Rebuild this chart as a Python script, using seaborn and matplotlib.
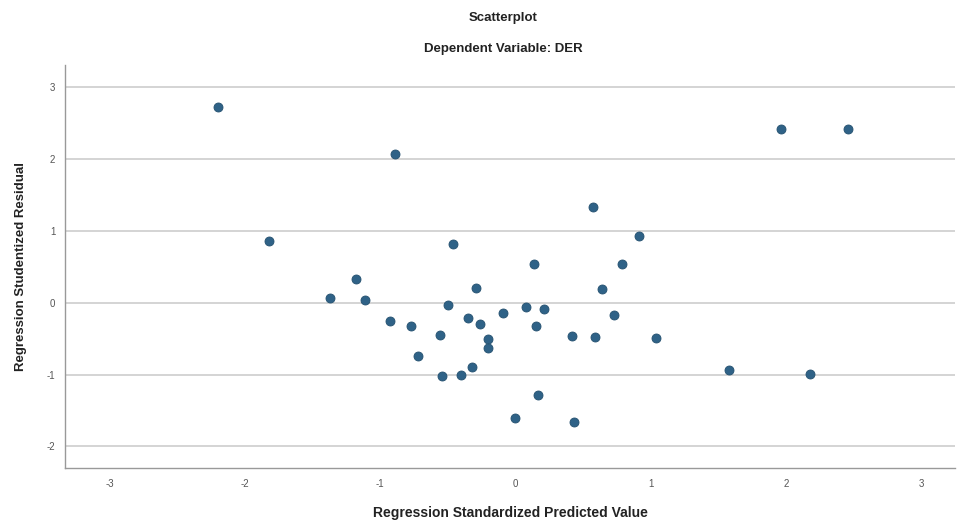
import matplotlib
matplotlib.use("Agg")
import matplotlib.pyplot as plt
import numpy as np
import pandas as pd
import seaborn as sns

# Values
predicted = [
    -2.20, -0.89, -1.82, -0.46, 0.14, -1.18, -0.29, -1.37, -1.11, -0.50,
    0.79, 0.64, -0.09, 0.08, 0.21, 0.73, -0.93, -0.77, -0.35, -0.26,
    0.15, -0.56, -0.20, -0.20, 0.42, 0.59, 1.04, -0.72, -0.32, -0.54,
    -0.40, 0.17, 0.00, 0.43, 1.96, 2.46, 0.57, 0.91, 1.58, 2.18,
]
residual = [
    2.73, 2.07, 0.86, 0.82, 0.54, 0.33, 0.20, 0.07, 0.04, -0.03,
    0.54, 0.19, -0.14, -0.06, -0.09, -0.17, -0.25, -0.32, -0.21, -0.29,
    -0.32, -0.45, -0.50, -0.63, -0.46, -0.48, -0.49, -0.74, -0.90, -1.02,
    -1.01, -1.29, -1.60, -1.66, 2.42, 2.42, 1.34, 0.93, -0.94, -0.99,
]
x_ticks = [-3, -2, -1, 0, 1, 2, 3]
y_ticks = [-2, -1, 0, 1, 2, 3]

df = pd.DataFrame({"pred": predicted, "resid": residual})

sns.set_style("white")
plt.rcParams["font.family"] = ["Liberation Sans", "DejaVu Sans"]

fig = plt.figure(figsize=(9.57, 5.2), dpi=100)
ax = fig.add_axes([0.068, 0.1, 0.93, 0.775])

for y in y_ticks:
    ax.axhline(y, color="#d4d4d4", linewidth=1.4, zorder=0)

sns.scatterplot(
    data=df, x="pred", y="resid", ax=ax,
    color="#2f6287", s=42, edgecolor="#24506f", linewidth=0.6, zorder=3,
)

ax.set_xlim(-3.33, 3.25)
ax.set_ylim(-2.30, 3.31)
ax.set_xticks(x_ticks)
ax.set_yticks(y_ticks)
ax.set_xticklabels([str(t) for t in x_ticks])
ax.set_yticklabels([str(t) for t in y_ticks])
ax.tick_params(axis="x", labelsize=7, colors="#555555", length=0, pad=8)
ax.tick_params(axis="y", labelsize=7, colors="#555555", length=0, pad=7)

for side in ["top", "right"]:
    ax.spines[side].set_visible(False)
for side in ["left", "bottom"]:
    ax.spines[side].set_color("#999999")
    ax.spines[side].set_linewidth(1.0)

ax.set_xlabel("Regression Standardized Predicted Value",
              fontsize=10, fontweight="bold", color="#222222", labelpad=12)
ax.set_ylabel("Regression Studentized Residual",
              fontsize=9.5, fontweight="bold", color="#222222", labelpad=14)

fig.text(0.526, 0.965, "Scatterplot", ha="center", va="center",
         fontsize=9.5, fontweight="bold", color="#222222")
fig.text(0.526, 0.906, "Dependent Variable: DER", ha="center", va="center",
         fontsize=9.5, fontweight="bold", color="#222222")

fig.savefig("out.png", dpi=100)
